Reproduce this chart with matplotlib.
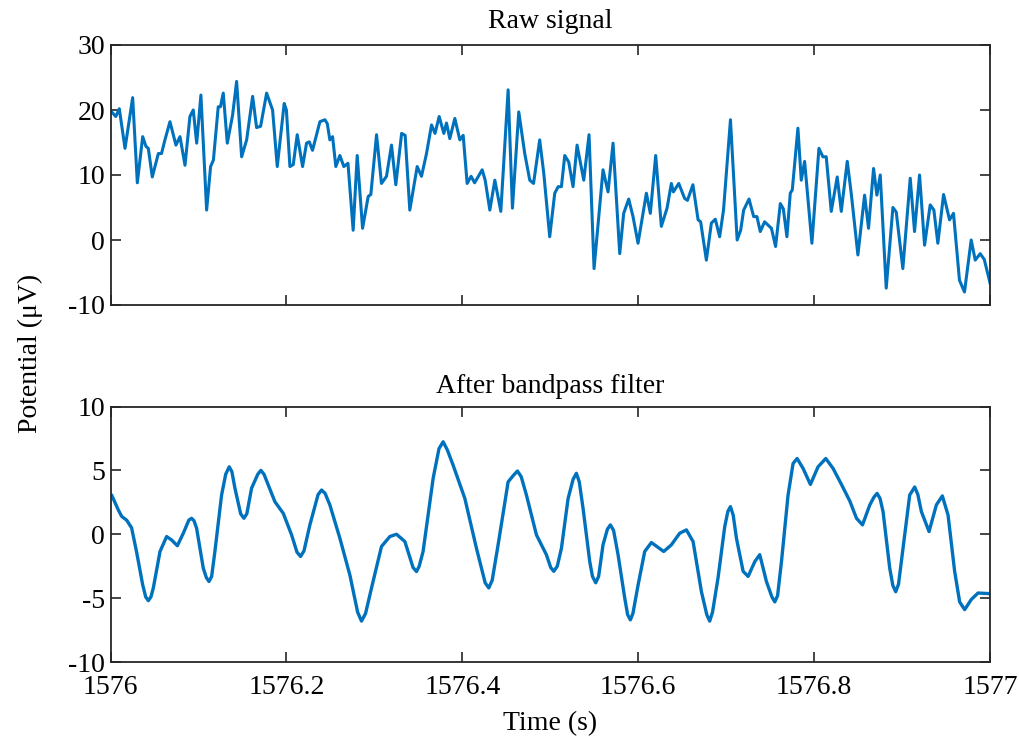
import matplotlib
matplotlib.use("Agg")
import matplotlib.pyplot as plt

plt.rcParams['font.family'] = ['Liberation Serif', 'DejaVu Serif']
plt.rcParams['axes.unicode_minus'] = False

# ---- data (time offset from 1576 s, potential in uV) ----
raw_t = [0.0, 0.0014, 0.006, 0.010, 0.0165, 0.0252, 0.0305, 0.0366, 0.0403, 0.0430, 0.0475,
         0.0544, 0.058, 0.0619, 0.0676, 0.0744, 0.079, 0.0847, 0.0903, 0.0941, 0.098, 0.1028,
         0.1093, 0.1138, 0.117, 0.1225, 0.125, 0.1282, 0.1328, 0.1388, 0.1434, 0.1491, 0.1548,
         0.1616, 0.1661, 0.1707, 0.1775, 0.1843, 0.1896, 0.193, 0.1975, 0.200, 0.204, 0.2078,
         0.2123, 0.2184, 0.2229, 0.226, 0.2297, 0.2381, 0.2438, 0.2465, 0.2494, 0.2525,
         0.2562, 0.2608, 0.2653, 0.270, 0.2759, 0.2805, 0.2866, 0.293, 0.296, 0.3025, 0.3081,
         0.3138, 0.3195, 0.3244, 0.331, 0.335, 0.3403, 0.3487, 0.3536, 0.3593, 0.365, 0.369,
         0.3737, 0.379, 0.382, 0.3858, 0.3915, 0.3972, 0.401, 0.4055, 0.410, 0.414, 0.4226,
         0.426, 0.4313, 0.437, 0.4438, 0.4521, 0.457, 0.4642, 0.471, 0.4767, 0.481, 0.488,
         0.4926, 0.4994, 0.5051, 0.509, 0.5127, 0.5165, 0.521, 0.5259, 0.5305, 0.5381, 0.5441,
         0.5498, 0.560, 0.5657, 0.5714, 0.579, 0.5835, 0.5892, 0.5941, 0.5998, 0.6093, 0.6138,
         0.6199, 0.6263, 0.6328, 0.6377, 0.640, 0.6461, 0.6528, 0.656, 0.6622, 0.6681, 0.671,
         0.6775, 0.6832, 0.6877, 0.6926, 0.697, 0.7049, 0.7125, 0.7165, 0.7199, 0.726, 0.7313,
         0.735, 0.7388, 0.7437, 0.7515, 0.7562, 0.7616, 0.7650, 0.7691, 0.7729, 0.7752, 0.7816,
         0.7854, 0.7892, 0.7975, 0.8055, 0.810, 0.8138, 0.8195, 0.8263, 0.8309, 0.8377, 0.8422,
         0.8498, 0.8574, 0.8619, 0.8676, 0.8714, 0.8752, 0.8820, 0.8896, 0.8934, 0.9009, 0.9093,
         0.9142, 0.9199, 0.9256, 0.9320, 0.9362, 0.9407, 0.9472, 0.954, 0.9585, 0.9653, 0.971,
         0.9786, 0.9832, 0.9889, 0.9935, 1.0]
raw_v = [19.6, 19.7, 19.0, 20.2, 14.1, 21.9, 8.8, 15.9, 14.4, 14.1, 9.7,
         13.3, 13.3, 15.4, 18.2, 14.6, 15.9, 11.5, 19.0, 20.0, 14.9, 22.3,
         4.6, 11.3, 12.3, 20.5, 20.5, 22.6, 14.9, 19.2, 24.4, 12.8, 15.4,
         22.1, 17.3, 17.5, 22.6, 20.0, 11.3, 15.5, 21.0, 20.0, 11.3, 11.6,
         16.2, 11.3, 14.9, 15.1, 13.8, 18.2, 18.5, 17.9, 15.4, 15.9,
         11.3, 13.0, 11.3, 11.8, 1.5, 13.0, 1.8, 6.7, 7.0, 16.2, 8.7,
         9.8, 14.6, 8.5, 16.4, 16.1, 4.6, 11.3, 9.8, 13.3, 17.7, 16.4,
         19.0, 16.4, 18.0, 15.6, 18.7, 15.4, 16.1, 8.7, 9.8, 8.8, 10.8,
         9.2, 4.6, 9.2, 4.4, 23.1, 4.9, 19.7, 13.3, 9.2, 8.7, 15.4,
         10.3, 0.5, 7.2, 8.2, 8.2, 13.0, 12.0, 8.2, 14.6, 9.2, 16.2,
         -4.4, 10.8, 7.4, 14.9, -2.1, 4.1, 6.3, 3.6, -0.5, 7.2, 4.1,
         13.0, 2.1, 4.9, 8.7, 7.4, 8.7, 6.4, 6.1, 8.5, 3.1, 2.8,
         -3.1, 2.6, 3.2, 0.5, 4.6, 18.5, 0.0, 1.5, 4.6, 6.3, 3.6,
         3.6, 1.3, 2.8, 1.8, -1.0, 5.6, 4.8, 0.5, 7.2, 7.7, 17.2,
         9.2, 12.1, -0.5, 14.1, 12.8, 12.8, 4.4, 9.7, 4.4, 12.1, 7.2,
         -2.3, 6.9, 1.8, 11.0, 6.9, 10.0, -7.4, 5.0, 4.3, -4.4, 9.5,
         1.3, 10.0, -0.8, 5.4, 4.6, -0.5, 7.0, 3.1, 4.1, -6.2, -8.0,
         0.0, -3.1, -2.1, -3.0, -6.6]

filt_t = [0.0, 0.0013, 0.0089, 0.0127, 0.0184, 0.024, 0.0297, 0.0366, 0.040, 0.043, 0.046,
          0.0487, 0.0563, 0.0638, 0.0695, 0.076, 0.0828, 0.089, 0.0922, 0.095, 0.0979,
          0.1055, 0.109, 0.112, 0.115, 0.1187, 0.1263, 0.131, 0.1350, 0.138, 0.1415,
          0.148, 0.1517, 0.155, 0.1604, 0.1675, 0.1710, 0.1745, 0.1794, 0.1869, 0.1964,
          0.2059, 0.212, 0.2161, 0.220, 0.2267, 0.236, 0.2400, 0.244, 0.2494, 0.2608,
          0.2722, 0.281, 0.2854, 0.290, 0.2968, 0.3081, 0.3176, 0.3252, 0.3347, 0.344,
          0.3479, 0.351, 0.3554, 0.3669, 0.3735, 0.3782, 0.383, 0.3896, 0.4029, 0.4161,
          0.426, 0.4301, 0.434, 0.4407, 0.4521, 0.458, 0.4627, 0.467, 0.4729, 0.4843,
          0.4956, 0.5005, 0.5040, 0.508, 0.5127, 0.5203, 0.526, 0.5297, 0.533, 0.5373,
          0.5449, 0.548, 0.5517, 0.555, 0.5600, 0.565, 0.5684, 0.572, 0.5771, 0.5847,
          0.588, 0.5911, 0.594, 0.5998, 0.6074, 0.615, 0.629, 0.6377, 0.6472, 0.6548,
          0.6624, 0.6719, 0.678, 0.6813, 0.6845, 0.6908, 0.6984, 0.702, 0.7049, 0.708,
          0.7117, 0.7193, 0.725, 0.7326, 0.7382, 0.7458, 0.752, 0.7553, 0.7585, 0.7629,
          0.7704, 0.7761, 0.7807, 0.7875, 0.7958, 0.8045, 0.8133, 0.8216, 0.8311, 0.8406,
          0.8482, 0.855, 0.8633, 0.868, 0.8716, 0.875, 0.8784, 0.886, 0.8895, 0.8928,
          0.896, 0.9011, 0.9087, 0.9144, 0.918, 0.922, 0.9307, 0.939, 0.9458, 0.9523,
          0.9598, 0.9655, 0.9712, 0.9788, 0.9864, 1.0]
filt_v = [3.1, 3.07, 1.9, 1.4, 1.1, 0.5, -1.4, -3.96, -4.9, -5.2, -4.9,
          -4.2, -1.35, -0.18, -0.45, -0.9, 0.08, 1.1, 1.25, 1.05, 0.47,
          -2.66, -3.4, -3.7, -3.3, -1.35, 3.07, 4.7, 5.28, 4.9, 3.6,
          1.6, 1.25, 1.6, 3.6, 4.7, 5.0, 4.7, 3.85, 2.55, 1.64,
          -0.05, -1.4, -1.74, -1.3, 0.73, 3.1, 3.46, 3.2, 2.3, -0.31,
          -3.2, -6.1, -6.8, -6.2, -4.2, -0.96, -0.18, 0.0, -0.57, -2.6,
          -2.92, -2.5, -1.35, 4.4, 6.7, 7.24, 6.6, 5.4, 2.8, -1.1,
          -3.8, -4.2, -3.6, -0.83, 4.1, 4.6, 4.95, 4.5, 3.07, -0.05,
          -1.6, -2.6, -2.9, -2.5, -1.1, 2.8, 4.3, 4.77, 4.1, 2.03,
          -2.14, -3.3, -3.8, -3.3, -0.83, 0.4, 0.73, 0.3, -1.6, -5.0,
          -6.3, -6.7, -6.2, -4.0, -1.35, -0.65, -1.35, -0.83, 0.08, 0.34,
          -0.57, -4.5, -6.3, -6.8, -6.1, -3.4, 0.6, 1.8, 2.16, 1.5,
          -0.31, -2.9, -3.3, -2.14, -1.6, -3.7, -4.9, -5.3, -4.8, -2.14,
          3.07, 5.54, 5.93, 5.15, 3.9, 5.28, 5.93, 5.15, 3.9, 2.6,
          1.25, 0.73, 2.29, 2.9, 3.2, 2.8, 1.77, -2.66, -4.0, -4.5,
          -3.9, -1.1, 3.07, 3.7, 3.1, 1.77, 0.21, 2.29, 3.0, 1.5,
          -2.9, -5.3, -5.9, -5.1, -4.6, -4.65]

t0 = 1576
x_ticks = [1576, 1576.2, 1576.4, 1576.6, 1576.8, 1577]
x_tick_labels = ["1576", "1576.2", "1576.4", "1576.6", "1576.8", "1577"]
raw_yticks = [-10, 0, 10, 20, 30]
filt_yticks = [-10, -5, 0, 5, 10]

color = "#0072BD"
axcol = "#262626"
fs = 20

fig = plt.figure(figsize=(10.19, 7.42), dpi=100)
W, H = 1019, 742

def make_ax(left, top, right, bottom):
    return fig.add_axes([left / W, 1 - bottom / H, (right - left) / W, (bottom - top) / H])

ax1 = make_ax(110.5, 45, 990, 305)
ax2 = make_ax(110.5, 406.5, 990, 662)

ax1.plot([t0 + t for t in raw_t], raw_v, color=color, lw=2.2, solid_joinstyle='round')
ax2.plot([t0 + t for t in filt_t], filt_v, color=color, lw=2.4, solid_joinstyle='round')

for ax, yt, title, tpad in [(ax1, raw_yticks, "Raw signal", 12),
                            (ax2, filt_yticks, "After bandpass filter", 10)]:
    ax.set_xlim(1576, 1577)
    ax.set_ylim(yt[0], yt[-1])
    ax.set_yticks(yt)
    ax.set_xticks(x_ticks)
    ax.tick_params(direction='in', top=True, right=True, length=7, width=1.2,
                   colors=axcol, labelsize=fs, labelcolor='black', pad=4)
    for s in ax.spines.values():
        s.set_color(axcol)
        s.set_linewidth(1.3)
    ax.set_title(title, fontsize=fs, pad=tpad)

ax1.set_xticklabels([])
ax2.set_xticklabels(x_tick_labels)
ax2.tick_params(axis='x', pad=9)
ax2.set_xlabel("Time (s)", fontsize=fs, labelpad=8)

fig.text(30 / W, 1 - 353 / H, "Potential (μV)", rotation=90, ha='center', va='center', fontsize=fs)

fig.savefig("out.png", dpi=100)
